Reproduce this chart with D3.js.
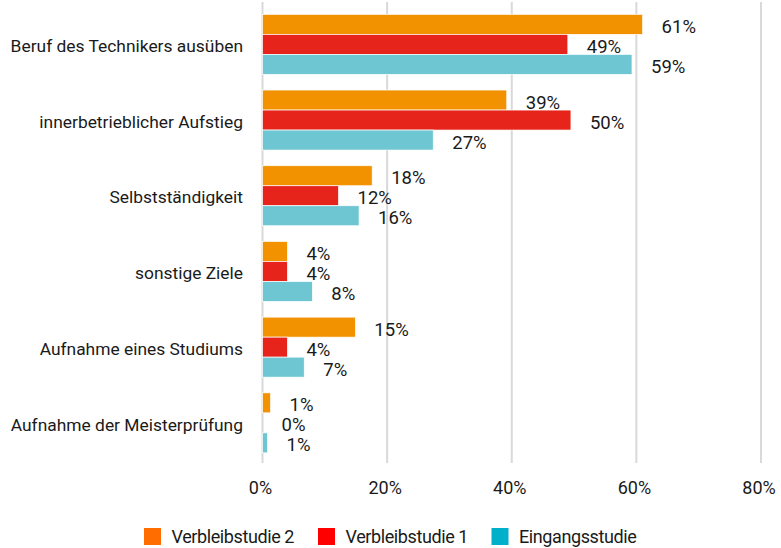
<!DOCTYPE html>
<html>
<head>
<meta charset="utf-8">
<script src="https://cdn.jsdelivr.net/npm/d3@7"></script>
<style>
	body { margin: 0; background: #fff; }
	text { font-family: Roboto, "Noto Sans", sans-serif; fill: #1a1a1a; }
</style>
</head>
<body>
<div id="chart"></div>
<script>
const categories = [
	"Beruf des Technikers ausüben",
	"innerbetrieblicher Aufstieg",
	"Selbstständigkeit",
	"sonstige Ziele",
	"Aufnahme eines Studiums",
	"Aufnahme der Meisterprüfung",
];
const seriesNames = ["Verbleibstudie 2", "Verbleibstudie 1", "Eingangsstudie"];
// values in percent
const verbleib2 = [61, 39.2, 17.6, 4, 14.9, 1.3];
const verbleib1 = [49, 49.5, 12.2, 4, 4, 0];
const eingang = [59.3, 27.4, 15.5, 8, 6.7, 0.8];
const ticks = [0, 20, 40, 60, 80];

const BAR_COLORS = ["#f39200", "#e6241b", "#6ec6d2"];
const LEGEND_COLORS = ["#ff6c00", "#ff0000", "#00afca"];

const width = 781,
	height = 548;

let svg = d3
	.select("#chart")
	.append("svg")
	.attr("width", width)
	.attr("height", height);

let x = d3.scaleLinear().domain([0, 80]).range([262.5, 761]);
let y = d3
	.scaleBand()
	.domain(categories)
	.range([6.5, 460.7])
	.paddingInner(0.207)
	.paddingOuter(0.1035);
let ySub = d3
	.scaleBand()
	.domain(seriesNames)
	.range([0, y.bandwidth()]);

// gridlines
svg.append("g")
	.selectAll("line")
	.data(ticks)
	.join("line")
	.attr("x1", (d) => x(d))
	.attr("x2", (d) => x(d))
	.attr("y1", 2)
	.attr("y2", 463)
	.attr("stroke", "#d9d9d9")
	.attr("stroke-width", 2);

// tick labels
svg.append("g")
	.selectAll("text")
	.data(ticks)
	.join("text")
	.attr("x", (d) => x(d) - 2)
	.attr("y", 493.5)
	.attr("text-anchor", "middle")
	.attr("font-size", "18px")
	.text((d) => d + "%");

// category labels
svg.append("g")
	.selectAll("text")
	.data(categories)
	.join("text")
	.attr("x", 243)
	.attr("y", (d) => y(d) + y.bandwidth() / 2 + 7.7)
	.attr("text-anchor", "end")
	.attr("font-size", "17.4px")
	.text((d) => d);

const allSeries = [verbleib2, verbleib1, eingang];

allSeries.forEach(function (values, s) {
	let rows = categories.map((c, i) => ({ cat: c, value: values[i] }));
	let g = svg.append("g");

	g.selectAll("rect")
		.data(rows)
		.join("rect")
		.attr("x", x(0))
		.attr("y", (d) => y(d.cat) + ySub(seriesNames[s]))
		.attr("width", (d) => x(d.value) - x(0))
		.attr("height", ySub.bandwidth())
		.attr("fill", BAR_COLORS[s])
		.attr("stroke", "#fff")
		.attr("stroke-width", 0.7);

	g.selectAll("text")
		.data(rows)
		.join("text")
		.attr("x", (d) => x(d.value) + 19)
		.attr("y", (d) => y(d.cat) + ySub(seriesNames[s]) + ySub.bandwidth() / 2 + 8.5)
		.attr("font-size", "18.5px")
		.text((d) => Math.round(d.value) + "%");
});

// legend
const legendX = [144, 318, 491.5];
let legend = svg
	.append("g")
	.selectAll("g")
	.data(seriesNames)
	.join("g")
	.attr("transform", (d, i) => "translate(" + legendX[i] + ",528)");

legend
	.append("rect")
	.attr("width", 17)
	.attr("height", 17)
	.attr("fill", (d, i) => LEGEND_COLORS[i]);

legend
	.append("text")
	.attr("x", 27.5)
	.attr("y", 15.3)
	.attr("font-size", "18px")
	.attr("letter-spacing", "-0.4px")
	.text((d) => d);
</script>
</body>
</html>
